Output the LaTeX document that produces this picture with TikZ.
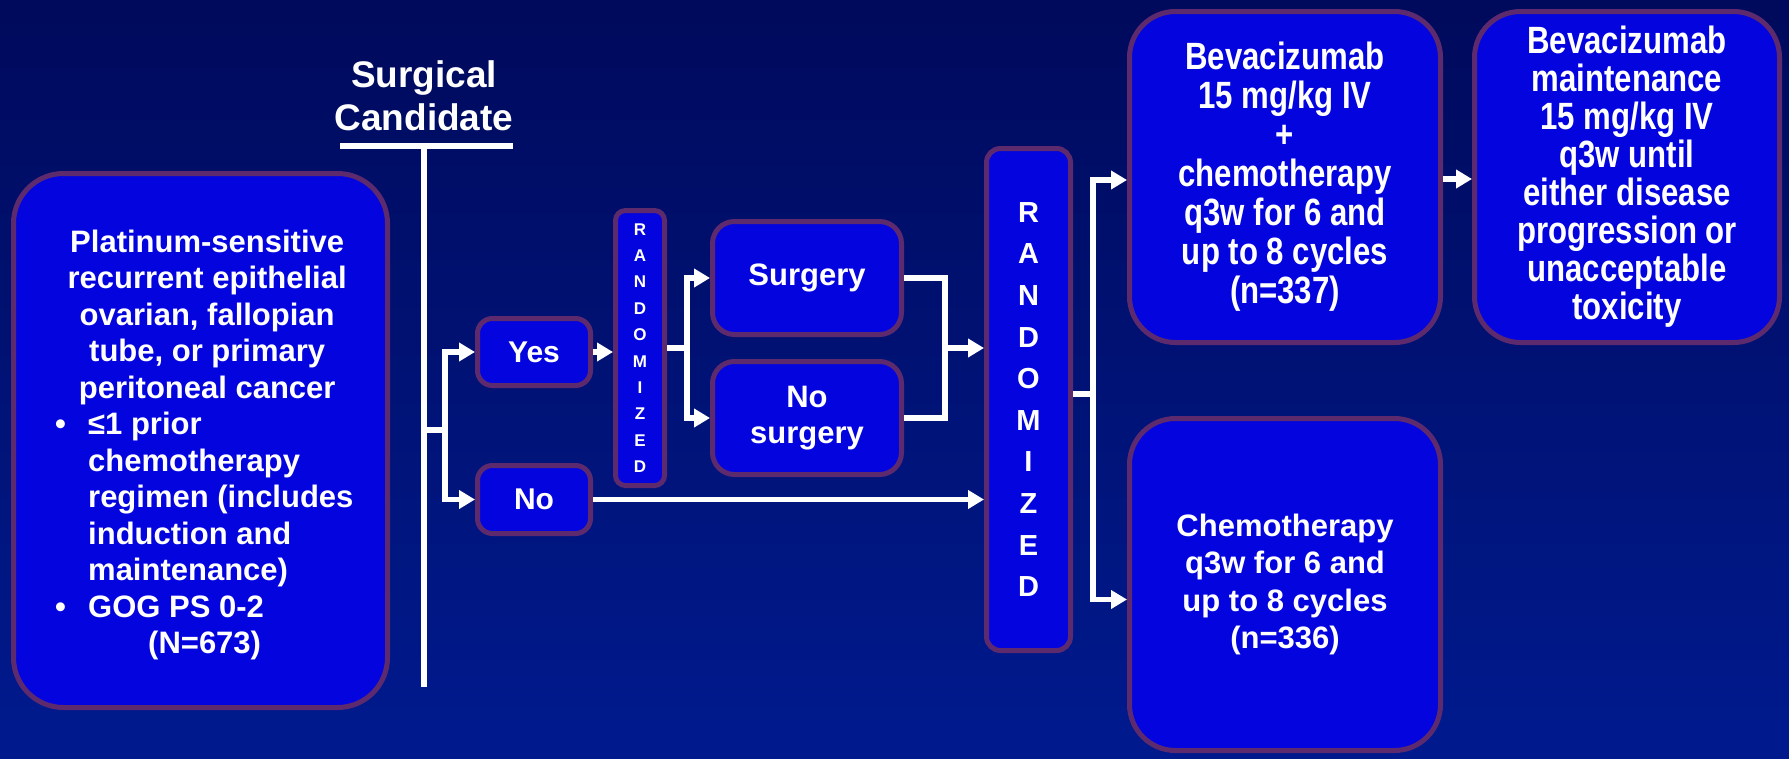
\documentclass[tikz,border=0pt]{standalone}
\usepackage{fontspec}
\setmainfont{Liberation Sans}
\newfontfamily\narrowfont{Liberation Sans}[FakeStretch=0.82]
\usetikzlibrary{arrows.meta,calc}
\definecolor{bgtop}{HTML}{000A5C}
\definecolor{bgbot}{HTML}{001A8E}
\definecolor{boxfill}{HTML}{0404DE}
\definecolor{boxhi}{HTML}{3434F4}
\definecolor{boxedge}{HTML}{5E2A6E}
\pgfdeclareverticalshading{cardshade}{100bp}{color(0bp)=(boxfill); color(88bp)=(boxfill); color(96bp)=(boxhi); color(100bp)=(boxhi)}
\tikzset{
  card/.style={draw=boxedge, line width=5pt, shading=cardshade, text=white, inner sep=0pt, align=center},
  txt31/.style={font={\bfseries\fontsize{31}{36.5}\selectfont}},
  wline/.style={draw=white, line width=5.5pt, line join=miter},
  arr/.style={wline, -{Triangle[length=16pt,width=18pt]}},
}
\begin{document}
\begin{tikzpicture}[x=1pt,y=-1pt]
\useasboundingbox (0,0) rectangle (1789,758);
\fill[top color=bgtop, bottom color=bgbot] (0,0) rectangle (1789,758);

% boxes
\node[card, rounded corners=50pt, minimum width=374pt, minimum height=534pt] (elig) at (200.5,440.5) {};
\node[text=white, inner sep=0pt, align=left, anchor=west, txt31] (eligtxt) at (55,445)
 {\makebox[304pt][c]{Platinum-sensitive}\\
  \makebox[304pt][c]{recurrent epithelial}\\
  \makebox[304pt][c]{ovarian, fallopian}\\
  \makebox[304pt][c]{tube, or primary}\\
  \makebox[304pt][c]{peritoneal cancer}\\
  \makebox[33pt][l]{•}≤1 prior\\
  \hspace*{33pt}chemotherapy\\
  \hspace*{33pt}regimen (includes\\
  \hspace*{33pt}induction and\\
  \hspace*{33pt}maintenance)\\
  \makebox[33pt][l]{•}GOG PS 0-2\\
  \hspace*{93pt}(N=673)};

\node[text=white, align=center, inner sep=0pt, font={\bfseries\fontsize{37}{43}\selectfont}] (sc) at (424,96) {Surgical\\Candidate};
\coordinate (ulL) at (340,146);
\coordinate (ulR) at (513,146);
\coordinate (ulM) at (424,146);
\coordinate (vbot) at (424,687);
\draw[wline] (ulL) -- (ulR);
\draw[wline] (ulM) -- (vbot);

\node[card, rounded corners=15pt, minimum width=113pt, minimum height=67pt, font={\bfseries\fontsize{30}{36}\selectfont}] (yes) at (534,352) {Yes};
\node[card, rounded corners=15pt, minimum width=113pt, minimum height=68pt, font={\bfseries\fontsize{30}{36}\selectfont}] (no) at (534,499.5) {No};

\node[card, rounded corners=10pt, minimum width=49pt, minimum height=275pt, font={\bfseries\fontsize{17}{26.4}\selectfont}] (rand1) at (640,348) {R\\A\\N\\D\\O\\M\\I\\Z\\E\\D};

\node[card, rounded corners=22pt, minimum width=189pt, minimum height=113pt, txt31] (surg) at (807,278) {Surgery};
\node[card, rounded corners=22pt, minimum width=189pt, minimum height=113pt, txt31] (nosurg) at (807,418) {No\\surgery};

\node[card, rounded corners=14pt, minimum width=84pt, minimum height=502pt, font={\bfseries\fontsize{29}{41.6}\selectfont}] (rand2) at (1028.5,399.5) {R\\A\\N\\D\\O\\M\\I\\Z\\E\\D};

\node[card, rounded corners=46pt, minimum width=311pt, minimum height=331pt, font={\narrowfont\bfseries\fontsize{38}{39}\selectfont}] (bev) at (1285,177) {Bevacizumab\\15 mg/kg IV\\+\\chemotherapy\\q3w for 6 and\\up to 8 cycles\\(n=337)};
\node[card, rounded corners=46pt, minimum width=305pt, minimum height=331pt, font={\narrowfont\bfseries\fontsize{38}{38}\selectfont}] (maint) at (1627,177) {Bevacizumab\\maintenance\\15 mg/kg IV\\q3w until\\either disease\\progression or\\unacceptable\\toxicity};
\node[card, rounded corners=46pt, minimum width=311pt, minimum height=332pt, font={\bfseries\fontsize{31}{37.6}\selectfont}] (chemo) at (1285,584.5) {Chemotherapy\\q3w for 6 and\\up to 8 cycles\\(n=336)};

% connectors
\coordinate (br1) at (424,430);
\coordinate (bj) at (445,430);
\draw[wline] (br1) -- (bj);
\draw[arr] (bj) |- (yes.west);
\draw[arr] (bj) |- (no.west);

\draw[arr] (yes.east) -- (yes.east -| rand1.west);

\coordinate (j2) at (687,348);
\draw[wline] (rand1.east) -- (j2);
\draw[arr] (j2) |- (surg.west);
\draw[arr] (j2) |- (nosurg.west);

\coordinate (j3) at (945,348);
\draw[wline] (surg.east) -| (j3);
\draw[wline] (nosurg.east) -| (j3);
\draw[arr] (j3) -- (j3 -| rand2.west);

\draw[arr] (no.east) -- (no.east -| rand2.west);

\coordinate (j4) at (1093,394);
\draw[wline] (rand2.east |- j4) -- (j4);
\draw[arr] (j4) |- ($(bev.west)+(0,3)$);
\draw[arr] (j4) |- ($(chemo.west)+(0,15)$);

\draw[arr] ($(bev.east)+(0,2)$) -- ($(maint.west)+(0,2)$);
\end{tikzpicture}
\end{document}
